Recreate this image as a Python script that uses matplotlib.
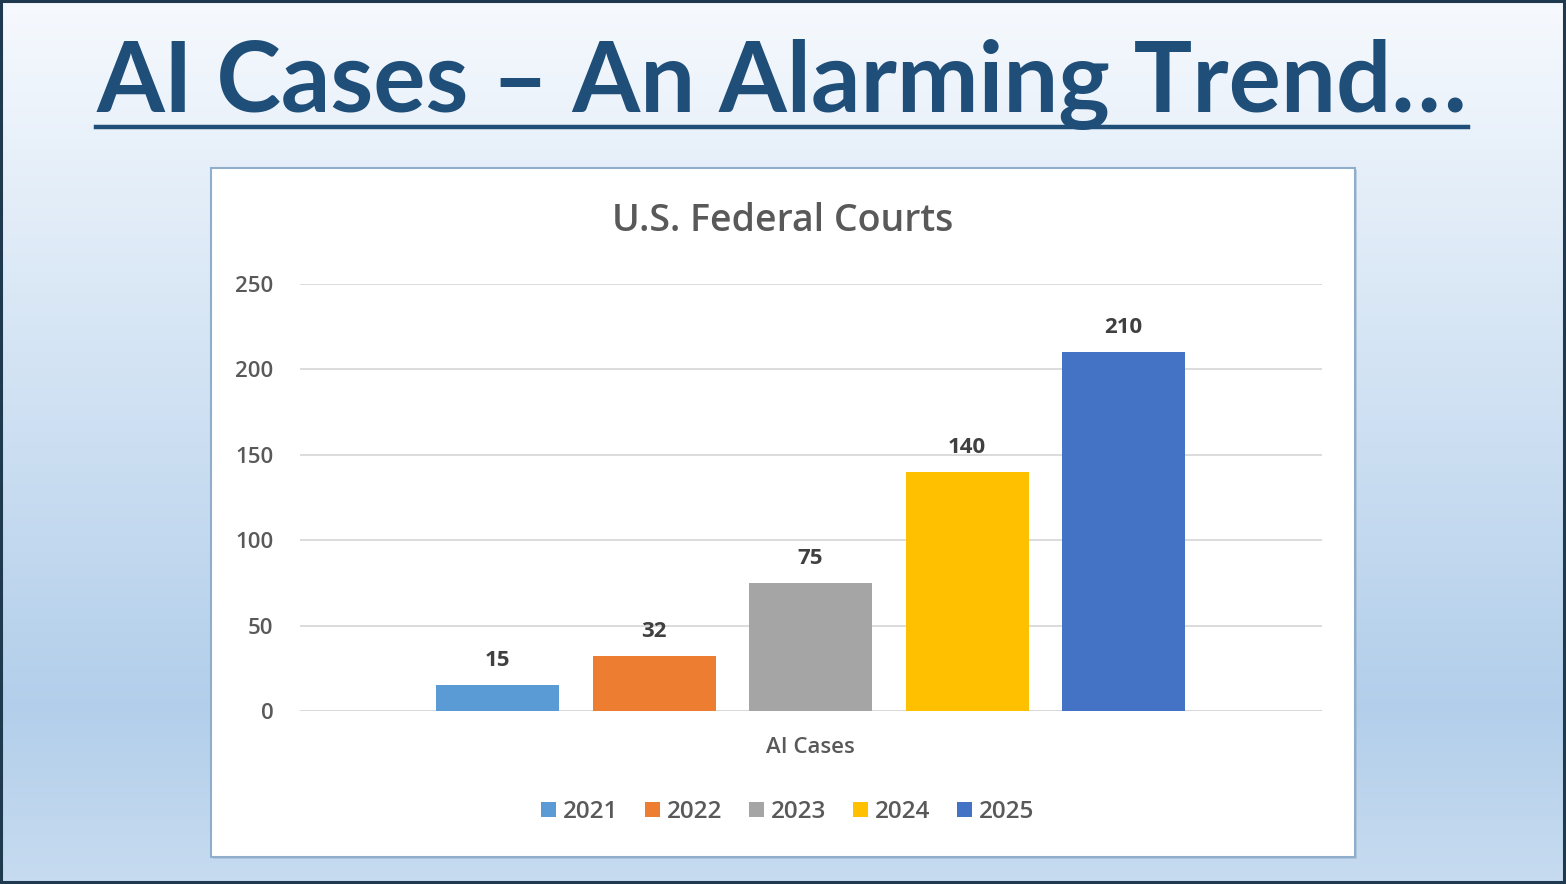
import numpy as np
import matplotlib.pyplot as plt
from matplotlib.patches import Rectangle
from matplotlib.lines import Line2D

years = ['2021', '2022', '2023', '2024', '2025']
cases = [15, 32, 75, 140, 210]
colors = ['#5B9BD5', '#ED7D31', '#A5A5A5', '#FFC000', '#4472C4']
category = 'AI Cases'
yticks = [0, 50, 100, 150, 200, 250]

W, H = 1566, 884
fig = plt.figure(figsize=(W / 100, H / 100), dpi=100)

# slide background: white at the top fading into light blue
bg = fig.add_axes([0, 0, 1, 1], zorder=0)
bg.set_xlim(0, W)
bg.set_ylim(H, 0)
bg.axis('off')
t = np.linspace(0, 1, 256)
top = np.array([0.965, 0.978, 0.995])
mid = np.array([0.70, 0.81, 0.92])
bot = np.array([0.78, 0.86, 0.94])
grad = np.where(t[:, None] < 0.8,
                top + (mid - top) * (t[:, None] / 0.8),
                mid + (bot - mid) * ((t[:, None] - 0.8) / 0.2))
bg.imshow(np.repeat(grad[:, None, :], 2, axis=1), extent=[0, W, H, 0], aspect='auto')
bg.add_patch(Rectangle((1, 1), W - 3, H - 3, fill=False, edgecolor='#1F3A4F', lw=2.2))
# chart box with a faint shadow
bg.add_patch(Rectangle((213, 170), 1144, 689, facecolor='#9DB4C8', edgecolor='none', alpha=0.5))
bg.add_patch(Rectangle((211, 168), 1144, 689, facecolor='white', edgecolor='#8EAECB', lw=1.5))

# main heading, underlined
title = fig.text(782 / W, 1 - 112 / H, 'AI Cases – An Alarming Trend…', ha='center', va='baseline',
                 fontsize=70, fontweight='bold', color='#1F4E79', family='Lato')
fig.canvas.draw()
w = title.get_window_extent().width
title.set_fontsize(70 * 1372 / w)
fig.add_artist(Line2D([96 / W, 1468 / W], [1 - 127 / H, 1 - 127 / H], color='#1F4E79', lw=3.2))

ax = fig.add_axes([300 / W, 1 - 711 / H, 1022 / W, 427 / H], zorder=2)
ax.patch.set_alpha(0)
n = len(years)
width = 0.786
offsets = np.arange(n) - (n - 1) / 2
for off, val, yr, col in zip(offsets, cases, years, colors):
    ax.bar(off, val, width, color=col, label=yr, zorder=3)
    ax.annotate(str(val), (off, val), xytext=(0, 10), textcoords='offset points',
                ha='center', va='bottom', fontsize=16, fontweight='bold', color='#404040',
                family='Open Sans')

ax.set_xlim(-3.262, 3.268)
ax.set_ylim(0, 250)
ax.set_yticks(yticks)
ax.set_xticks([0])
ax.set_xticklabels([category])
ax.yaxis.grid(True, color='#D9D9D9', lw=1.3, zorder=0)
for s in ['top', 'right', 'left', 'bottom']:
    ax.spines[s].set_visible(False)
ax.axhline(0, color='#D9D9D9', lw=1.3, zorder=1)
ax.tick_params(axis='y', length=0, pad=19, labelsize=16, labelcolor='#595959')
ax.tick_params(axis='x', length=0, pad=19, labelsize=16, labelcolor='#595959')
for lab in ax.get_xticklabels() + ax.get_yticklabels():
    lab.set_family('Open Sans')
    lab.set_fontweight('semibold')

fig.text(783 / W, 1 - 221 / H, 'U.S. Federal Courts', ha='center', va='center',
         fontsize=27, fontweight='semibold', color='#595959', family='Open Sans')

fig.legend(loc='center', bbox_to_anchor=(788 / W, 1 - 812 / H), ncol=5, frameon=False,
           handlelength=0.6, handleheight=0.6, handletextpad=0.3, columnspacing=1.1,
           prop={'family': 'Open Sans', 'size': 17.5, 'weight': 'semibold'}, labelcolor='#595959')

fig.savefig('out.png', dpi=100)
